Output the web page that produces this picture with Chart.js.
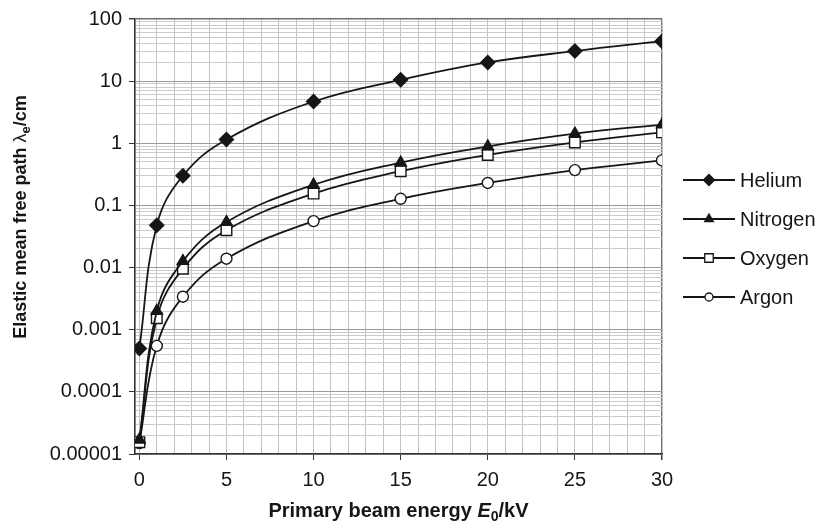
<!DOCTYPE html>
<html>
<head>
<meta charset="utf-8">
<script src="https://cdn.jsdelivr.net/npm/chart.js@4"></script>
<style>
  html, body { margin: 0; padding: 0; background: #fff; }
</style>
</head>
<body>
<canvas id="chart" width="823" height="530"></canvas>
<script>
// values (log axis, cm)
const ENERGY   = [0, 1, 2.5, 5, 10, 15, 20, 25, 30];
const HELIUM   = [0.0005, 0.048, 0.30, 1.15, 4.7, 10.5, 20, 30.5, 44];
const NITROGEN = [0.000017, 0.002, 0.0127, 0.054, 0.215, 0.49, 0.89, 1.43, 2.0];
const OXYGEN   = [0.0000155, 0.00153, 0.0096, 0.040, 0.155, 0.355, 0.65, 1.03, 1.5];
const ARGON    = [0.000015, 0.00055, 0.0034, 0.0139, 0.056, 0.128, 0.23, 0.37, 0.53];
const SERIES   = ['Helium', 'Nitrogen', 'Oxygen', 'Argon'];
const X_TICKS  = [0, 5, 10, 15, 20, 25, 30];
const Y_TICKS  = ['0.00001', '0.0001', '0.001', '0.01', '0.1', '1', '10', '100'];

const FONT = "'Liberation Sans', Arial, sans-serif";
const INK = '#161616';

const isDecade = v => Math.abs(Math.log10(v) - Math.round(Math.log10(v))) < 1e-6;

function makeSet(label, values, style, radius, fill) {
    return {
        label,
        data: ENERGY.map((x, i) => ({ x, y: values[i] })),
        borderColor: INK,
        borderWidth: 1.8,
        tension: 0.4,
        pointStyle: style,
        pointRadius: radius,
        pointHoverRadius: radius,
        pointBackgroundColor: fill,
        pointBorderColor: INK,
        pointBorderWidth: 1.4,
    };
}

// draws text pieces one after another, centred on x
function drawRuns(ctx, runs, x, y) {
    let total = 0;
    for (const r of runs) { ctx.font = r.f; total += ctx.measureText(r.t).width; }
    let cx = x - total / 2;
    for (const r of runs) {
        ctx.font = r.f;
        ctx.fillText(r.t, cx, y + (r.dy || 0));
        cx += ctx.measureText(r.t).width;
    }
}

const axisTitles = {
    id: 'axisTitles',
    afterDraw(chart) {
        const { ctx, chartArea } = chart;
        ctx.save();
        ctx.fillStyle = INK;
        ctx.textBaseline = 'alphabetic';
        ctx.textAlign = 'left';
        drawRuns(ctx, [
            { t: 'Primary beam energy ', f: 'bold 20px ' + FONT },
            { t: 'E', f: 'italic bold 20px ' + FONT },
            { t: '0', f: 'bold 14px ' + FONT, dy: 4 },
            { t: '/kV', f: 'bold 20px ' + FONT },
        ], (chartArea.left + chartArea.right) / 2, 517);

        ctx.translate(26, 217);
        ctx.rotate(-Math.PI / 2);
        drawRuns(ctx, [
            { t: 'Elastic mean free path ', f: 'bold 18px ' + FONT },
            { t: 'λ', f: '18px ' + FONT },
            { t: 'e', f: 'bold 13px ' + FONT, dy: 4 },
            { t: '/cm', f: 'bold 18px ' + FONT },
        ], 0, 0);
        ctx.restore();
    }
};

const sideLegend = {
    id: 'sideLegend',
    afterDraw(chart) {
        const ctx = chart.ctx;
        ctx.save();
        chart.data.datasets.forEach((ds, i) => {
            const y = 180 + i * 39;
            ctx.strokeStyle = INK;
            ctx.lineWidth = 1.8;
            ctx.beginPath();
            ctx.moveTo(683, y);
            ctx.lineTo(735, y);
            ctx.stroke();
            ctx.fillStyle = ds.pointBackgroundColor;
            ctx.lineWidth = 1.3;
            Chart.helpers.drawPoint(ctx, {
                pointStyle: ds.pointStyle,
                radius: ds.pointRadius - 1.5,
                rotation: 0,
                borderWidth: 1.3
            }, 709, y);
            ctx.fillStyle = INK;
            ctx.font = '20px ' + FONT;
            ctx.textBaseline = 'middle';
            ctx.textAlign = 'left';
            ctx.fillText(ds.label, 740, y + 1);
        });
        ctx.restore();
    }
};

new Chart(document.getElementById('chart'), {
    type: 'line',
    data: {
        datasets: [
            makeSet(SERIES[0], HELIUM, 'rectRot', 7, INK),
            makeSet(SERIES[1], NITROGEN, 'triangle', 6.5, INK),
            makeSet(SERIES[2], OXYGEN, 'rect', 7.5, '#fff'),
            makeSet(SERIES[3], ARGON, 'circle', 5.5, '#fff'),
        ]
    },
    options: {
        responsive: false,
        animation: false,
        devicePixelRatio: 1,
        layout: { padding: { top: 19, right: 161, left: 0, bottom: 0 } },
        plugins: { legend: { display: false }, tooltip: { enabled: false } },
        scales: {
            x: {
                type: 'linear',
                min: -0.25,
                max: 30,
                afterBuildTicks: s => {
                    s.ticks = [];
                    for (let i = 0; i <= 30; i++) s.ticks.push({ value: i });
                },
                afterFit: s => { s.height = 76; },
                ticks: {
                    autoSkip: false,
                    maxRotation: 0,
                    padding: 8,
                    color: INK,
                    font: { family: FONT, size: 20 },
                    callback: v => X_TICKS.includes(v) ? String(v) : ''
                },
                grid: {
                    color: c => c.tick && c.tick.value === 30 ? '#6f6f6f' : '#c2c2c2',
                    lineWidth: c => c.tick && c.tick.value === 30 ? 1.4 : 1,
                    tickLength: 6,
                    tickColor: c => c.tick && X_TICKS.includes(c.tick.value) ? '#333' : 'rgba(0,0,0,0)'
                },
                border: { color: '#333', width: 1.6 }
            },
            y: {
                type: 'logarithmic',
                min: 1e-5,
                max: 100,
                afterBuildTicks: s => {
                    const t = [];
                    Y_TICKS.forEach((lab, i) => {
                        const d = parseFloat(lab);
                        t.push({ value: d, major: true });
                        if (i < Y_TICKS.length - 1) for (let k = 2; k <= 9; k++) t.push({ value: d * k });
                    });
                    s.ticks = t;
                },
                afterFit: s => { s.width = 135; },
                ticks: {
                    autoSkip: false,
                    padding: 7,
                    color: INK,
                    font: { family: FONT, size: 20 },
                    callback: v => {
                        const i = Y_TICKS.findIndex(l => Math.abs(parseFloat(l) - v) < v * 1e-6);
                        return i >= 0 ? Y_TICKS[i] : '';
                    }
                },
                grid: {
                    color: c => c.tick && isDecade(c.tick.value) ? (c.tick.value === 100 ? '#6f6f6f' : '#9a9a9a') : '#cbcbcb',
                    lineWidth: c => c.tick && c.tick.value === 100 ? 1.4 : 1,
                    tickLength: 6,
                    tickColor: c => c.tick && isDecade(c.tick.value) ? '#333' : 'rgba(0,0,0,0)'
                },
                border: { color: '#333', width: 1.6 }
            }
        }
    },
    plugins: [axisTitles, sideLegend]
});
</script>
</body>
</html>
